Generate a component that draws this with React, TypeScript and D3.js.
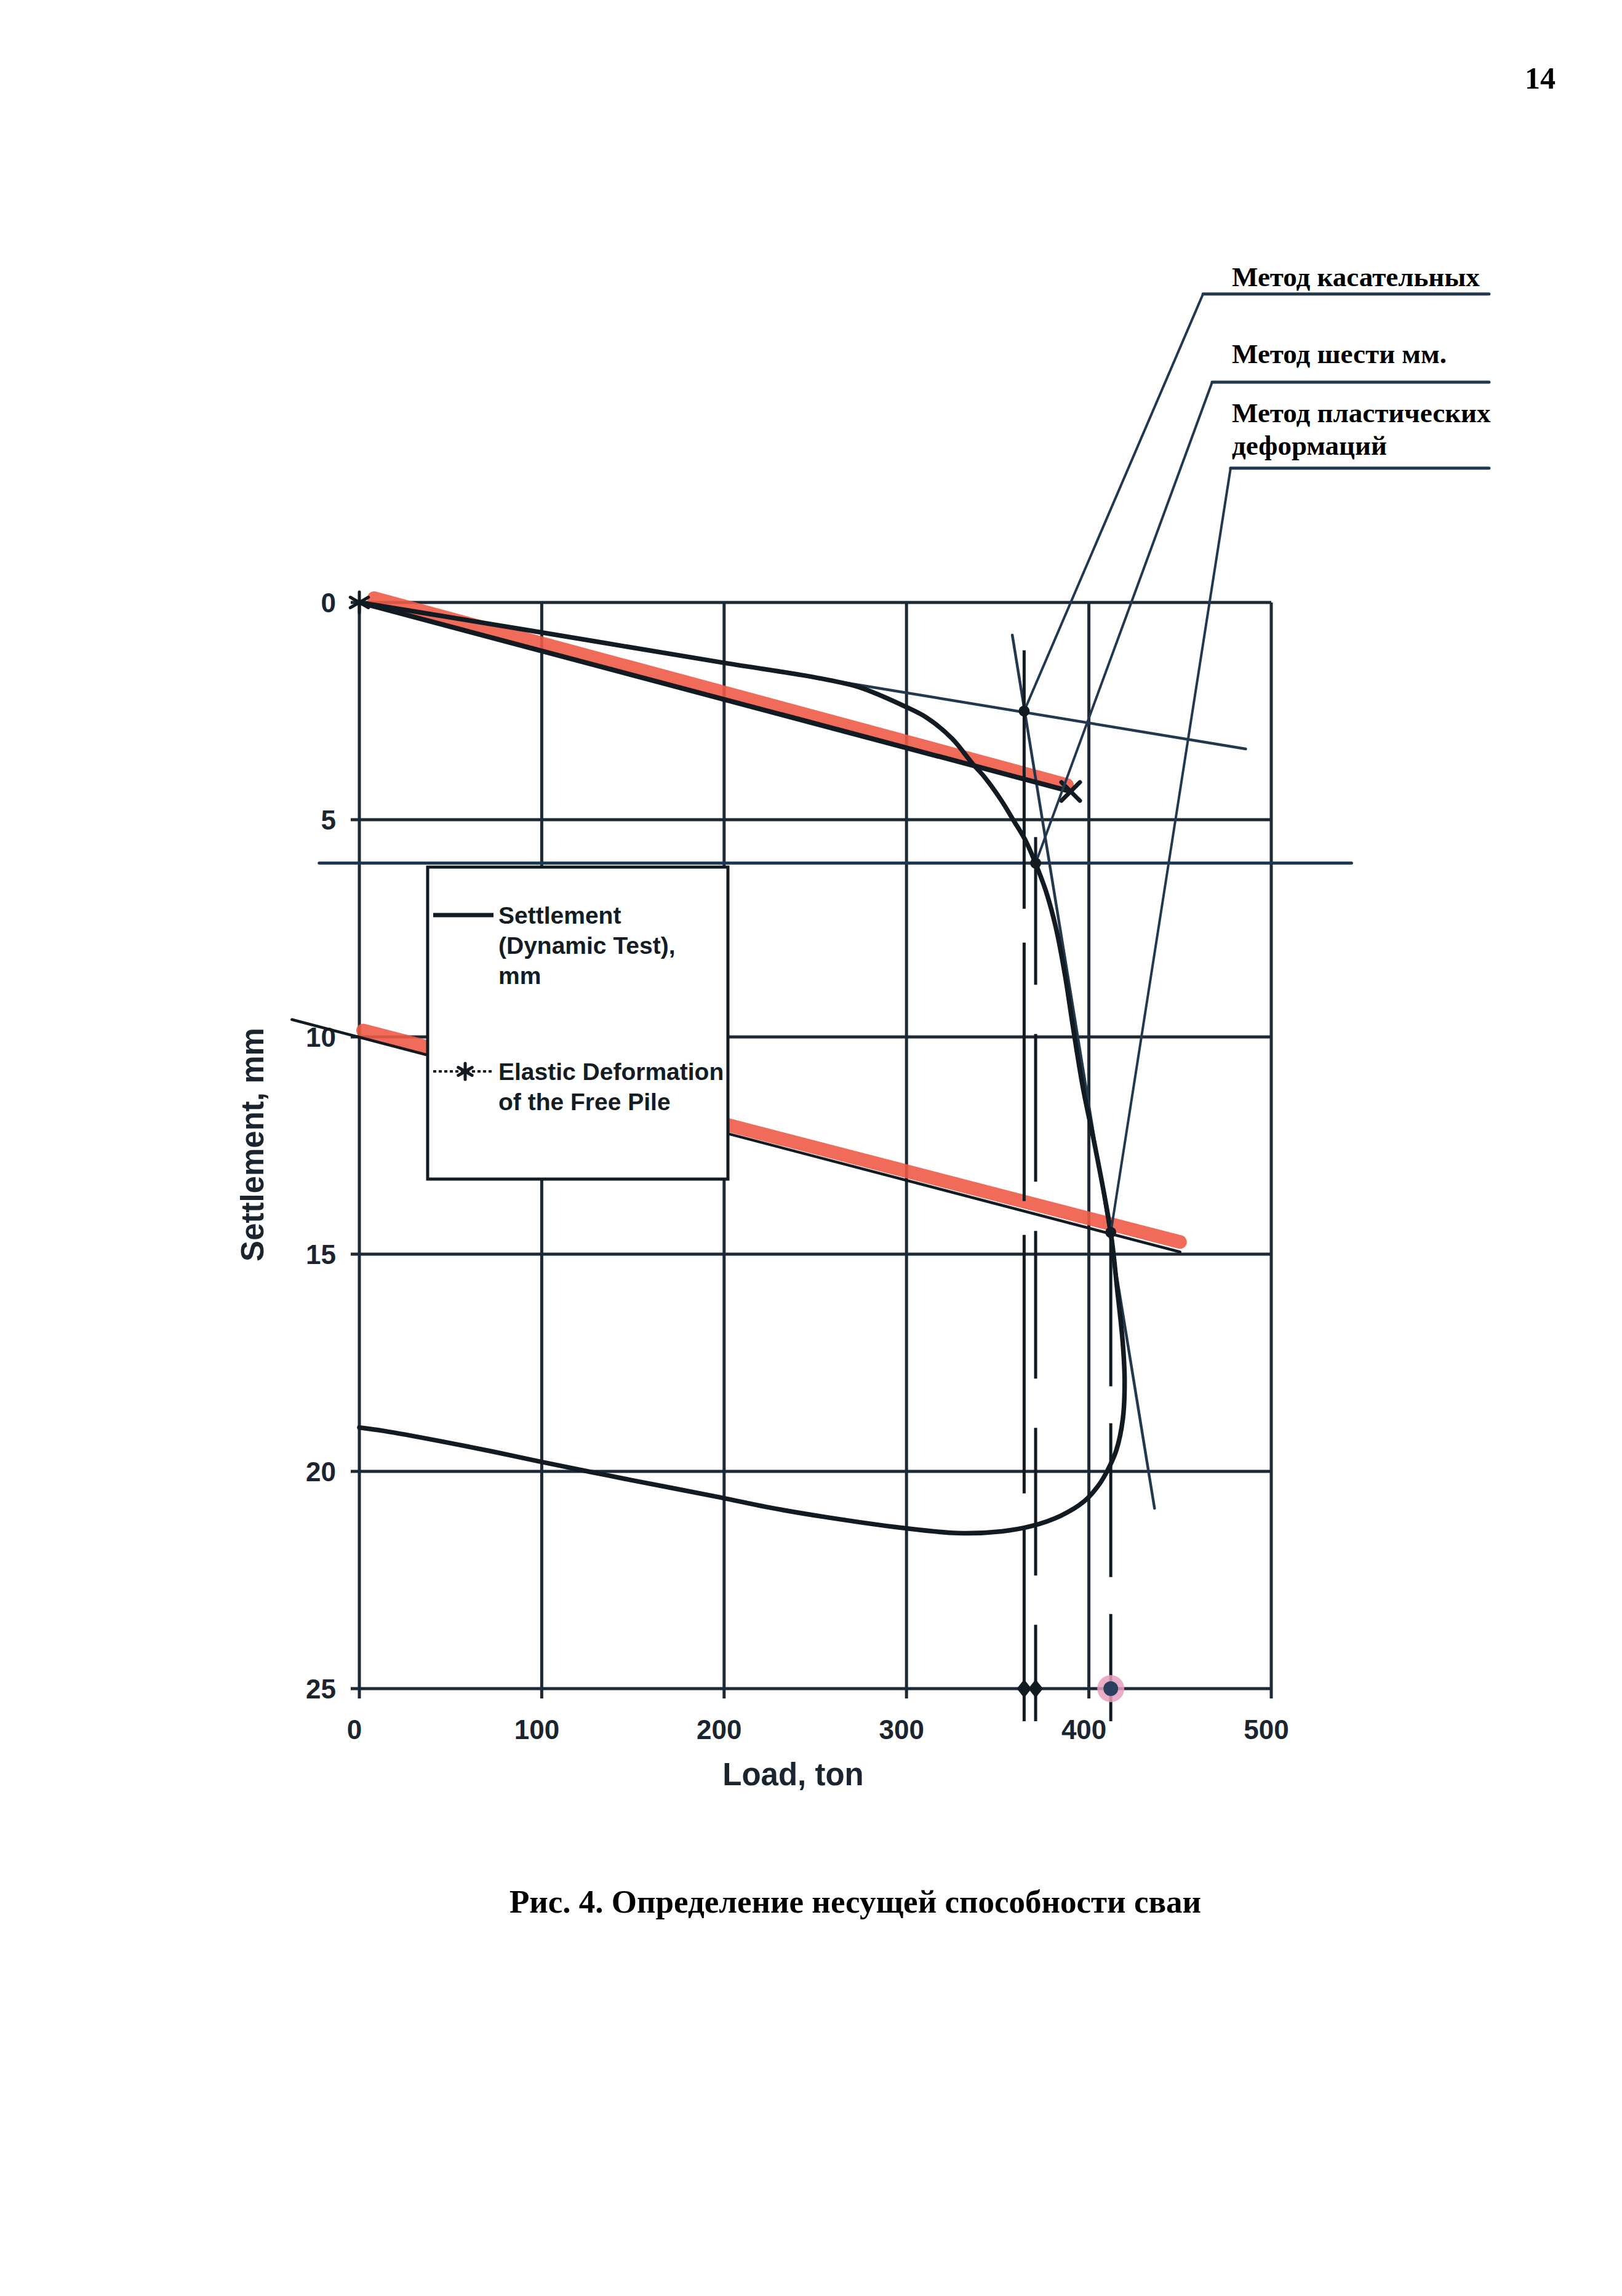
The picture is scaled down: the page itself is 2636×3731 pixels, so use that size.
import React from 'react';
import * as d3 from 'd3';

// ---- data ----
const loadTicks = [0, 100, 200, 300, 400, 500];
const settlementTicks = [0, 5, 10, 15, 20, 25];

// settlement curve (dynamic test): loading branch then unloading branch
const curveLoad = [
  0, 100, 200, 241, 258, 274, 299, 311.4, 324.9, 336, 342.8, 351.9, 358.6, 365.4, 370.8, 376.5, 382, 387, 391.4, 396.8,
  403.5, 412, 415.5, 418.5, 419.6, 418.6, 415, 410.3, 405.5, 397.4, 384.6, 368.4, 352.2, 328, 297.6, 255.4, 223.3, 198,
  149, 126.5, 97.5, 73.9, 43.9, 13.7, 0,
];
const curveSettlement = [
  0, 0.69, 1.39, 1.66, 1.79, 1.95, 2.39, 2.66, 3.13, 3.7, 4.02, 4.55, 5.01, 5.49, 6.01, 6.65, 7.5, 8.6, 9.8, 11.18,
  12.55, 14.5, 15.8, 17.0, 17.9, 18.8, 19.52, 19.97, 20.31, 20.69, 21.02, 21.26, 21.38, 21.42, 21.3, 21.05, 20.82, 20.6,
  20.2, 20.01, 19.76, 19.55, 19.3, 19.07, 18.99,
];

// elastic deformation of the free pile
const elasticLoad = [0, 390];
const elasticSettlement = [0, 4.35];
const elasticHiLoad = [8, 388];
const elasticHiSettlement = [-0.1, 4.2];

// construction lines
const initialTangentLoad = [0, 486];
const initialTangentSettlement = [0, 3.37];
const steepTangentLoad = [358, 436];
const steepTangentSettlement = [0.75, 20.85];
const plasticLoad = [-37, 450];
const plasticSettlement = [9.6, 14.95];
const plasticHiLoad = [2, 450];
const plasticHiSettlement = [9.85, 14.72];
const sixMmLoad = [-22, 544];
const sixMmSettlement = [6, 6];

// capacity results by method
const capacityLoad = [364.5, 370.8, 412];
const capacitySettlement = [2.5, 6.0, 14.5];
const dropStart = [1.1, 5.4, 14.5];
const dropEnd = 25.75;
const dashes = ['420,55', '240,80', '250,60'];

const methodLabels = [['Метод касательных'], ['Метод шести мм.'], ['Метод пластических', 'деформаций']];
// leader start in chart units (load, settlement)
const leaderLoad = [462.6, 467.6, 477.7];
const leaderSettlement = [-7.1, -5.07, -3.09];
const underlineEndLoad = 619.4;

const legendLines1 = ['Settlement', '(Dynamic Test),', 'mm'];
const legendLines2 = ['Elastic Deformation', 'of the Free Pile'];

const W = 2636;
const H = 3731;
const SANS = '"Liberation Sans", Arial, Helvetica, sans-serif';
const SERIF = '"Liberation Serif", "Times New Roman", serif';
const INK = '#121a22';
const GRID = '#1d2935';
const BLUE = '#22384e';
const RED = '#ee5b47';

const x = d3.scaleLinear().domain([0, 500]).range([584, 2066]);
const y = d3.scaleLinear().domain([0, 25]).range([979, 2744]);

// baselines of the method labels (page pixels)
const labelBaselines = [[465], [590], [686, 739]];

const pts = (xs: number[], ys: number[]) => xs.map((v, i) => [v, ys[i]] as [number, number]);
const line = d3.line<[number, number]>().x((d) => x(d[0])).y((d) => y(d[1]));
const smooth = d3
  .line<[number, number]>()
  .x((d) => x(d[0]))
  .y((d) => y(d[1]))
  .curve(d3.curveCatmullRom.alpha(0.5));

function Star({ cx, cy, r, w }: { cx: number; cy: number; r: number; w: number }) {
  return (
    <g stroke={INK} strokeWidth={w} strokeLinecap="round">
      {[90, 30, 150].map((a) => {
        const dx = r * Math.cos((a * Math.PI) / 180);
        const dy = r * Math.sin((a * Math.PI) / 180);
        return <line key={a} x1={cx - dx} y1={cy - dy} x2={cx + dx} y2={cy + dy} />;
      })}
    </g>
  );
}

export default function App() {
  const [x0, x1] = x.range();
  const [y0, y1] = y.range();
  const legend = { x: 695, y: 1409, w: 488, h: 507 };
  const ex = x(elasticLoad[1]);
  const ey = y(elasticSettlement[1]);

  return (
    <div style={{ position: 'absolute', left: 0, top: 0 }}>
      <svg width={W} height={H} viewBox={`0 0 ${W} ${H}`} style={{ display: 'block', background: '#fff' }}>
        <rect width={W} height={H} fill="#fff" />

        {/* page number */}
        <text x={2528} y={144} textAnchor="end" fontFamily={SERIF} fontWeight="bold" fontSize={50} fill="#000">
          14
        </text>

        {/* grid */}
        <g stroke={GRID} strokeWidth={5}>
          {settlementTicks.map((t) => (
            <line key={'h' + t} x1={x0 - 14} x2={x1} y1={y(t)} y2={y(t)} />
          ))}
          {loadTicks.map((t) => (
            <line key={'v' + t} x1={x(t)} x2={x(t)} y1={y0} y2={y1 + 16} />
          ))}
        </g>

        {/* tick labels */}
        <g fontFamily={SANS} fontWeight="bold" fontSize={44} fill="#1b2530">
          {settlementTicks.map((t) => (
            <text key={'yl' + t} x={546} y={y(t)} dy="0.36em" textAnchor="end">
              {t}
            </text>
          ))}
          {loadTicks.map((t) => (
            <text key={'xl' + t} x={x(t) - 8} y={2826} textAnchor="middle">
              {t}
            </text>
          ))}
        </g>
        <text x={1289} y={2901} textAnchor="middle" fontFamily={SANS} fontWeight="bold" fontSize={51} fill="#1b2530">
          Load, ton
        </text>
        <text
          transform="translate(428,1860) rotate(-90)"
          textAnchor="middle"
          fontFamily={SANS}
          fontWeight="bold"
          fontSize={51}
          fill="#1b2530"
        >
          Settlement, mm
        </text>

        {/* red highlights */}
        <g stroke={RED} strokeWidth={22} strokeLinecap="round" opacity={0.9} fill="none">
          <path d={line(pts(elasticHiLoad, elasticHiSettlement)) || ''} />
          <path d={line(pts(plasticHiLoad, plasticHiSettlement)) || ''} />
        </g>

        {/* construction lines */}
        <g stroke={BLUE} strokeWidth={4.5} fill="none" strokeLinecap="round">
          <path d={line(pts(initialTangentLoad, initialTangentSettlement)) || ''} />
          <path d={line(pts(steepTangentLoad, steepTangentSettlement)) || ''} />
          <path d={line(pts(plasticLoad, plasticSettlement)) || ''} stroke={INK} />
          <path d={line(pts(sixMmLoad, sixMmSettlement)) || ''} strokeWidth={5} />
        </g>

        {/* vertical drops to load axis */}
        <g stroke={INK} strokeWidth={5} fill="none">
          {capacityLoad.map((l, i) => (
            <line key={'d' + i} x1={x(l)} x2={x(l)} y1={y(dropStart[i])} y2={y(dropEnd)} strokeDasharray={dashes[i]} />
          ))}
        </g>

        {/* elastic line */}
        <path d={line(pts(elasticLoad, elasticSettlement)) || ''} stroke={INK} strokeWidth={8} fill="none" />
        <Star cx={x(0)} cy={y(0)} r={17} w={5} />
        <g stroke={INK} strokeWidth={7} strokeLinecap="round">
          <line x1={ex - 15} y1={ey - 15} x2={ex + 15} y2={ey + 15} />
          <line x1={ex - 15} y1={ey + 15} x2={ex + 15} y2={ey - 15} />
        </g>

        {/* settlement curve */}
        <path
          d={smooth(pts(curveLoad, curveSettlement)) || ''}
          stroke={INK}
          strokeWidth={7.5}
          fill="none"
          strokeLinejoin="round"
          strokeLinecap="round"
        />

        {/* annotations */}
        <g stroke={BLUE} strokeWidth={5} fill="none" strokeLinecap="round">
          {methodLabels.map((_, i) => (
            <g key={'ld' + i}>
              <line x1={x(leaderLoad[i])} y1={y(leaderSettlement[i])} x2={x(underlineEndLoad)} y2={y(leaderSettlement[i])} />
              <line
                x1={x(leaderLoad[i])}
                y1={y(leaderSettlement[i])}
                x2={x(capacityLoad[i])}
                y2={y(capacitySettlement[i])}
                strokeWidth={4}
              />
            </g>
          ))}
        </g>
        <g fontFamily={SERIF} fontWeight="bold" fontSize={45} fill="#000">
          {methodLabels.map((lines, i) =>
            lines.map((s, j) => (
              <text key={'ml' + i + j} x={2002} y={labelBaselines[i][j]}>
                {s}
              </text>
            ))
          )}
        </g>

        {/* intersection dots */}
        {capacityLoad.map((l, i) => (
          <circle key={'c' + i} cx={x(l)} cy={y(capacitySettlement[i])} r={9} fill={INK} />
        ))}
        {/* marks on load axis */}
        {capacityLoad.slice(0, 2).map((l, i) => (
          <path
            key={'dm' + i}
            d={`M${x(l)},${y(25) - 15} L${x(l) + 12},${y(25)} L${x(l)},${y(25) + 15} L${x(l) - 12},${y(25)} Z`}
            fill={INK}
          />
        ))}
        <circle cx={x(capacityLoad[2])} cy={y(25)} r={22} fill="#e7a0bf" opacity={0.85} />
        <circle cx={x(capacityLoad[2])} cy={y(25)} r={12} fill="#2d3f5e" />

        {/* legend */}
        <rect x={legend.x} y={legend.y} width={legend.w} height={legend.h} fill="#fff" stroke={INK} strokeWidth={5} />
        <line x1={704} x2={802} y1={1487} y2={1487} stroke={INK} strokeWidth={7} />
        <line x1={704} x2={802} y1={1741} y2={1741} stroke={INK} strokeWidth={4} strokeDasharray="5,4" />
        <Star cx={756} cy={1741} r={13} w={5} />
        <g fontFamily={SANS} fontWeight="bold" fontSize={39} fill="#141c24">
          {legendLines1.map((s, i) => (
            <text key={'l1' + i} x={810} y={1501 + i * 49}>
              {s}
            </text>
          ))}
          {legendLines2.map((s, i) => (
            <text key={'l2' + i} x={810} y={1755 + i * 49}>
              {s}
            </text>
          ))}
        </g>

        {/* caption */}
        <text x={1390} y={3108} textAnchor="middle" fontFamily={SERIF} fontWeight="bold" fontSize={53} fill="#000">
          Рис. 4. Определение несущей способности сваи
        </text>
      </svg>
    </div>
  );
}
